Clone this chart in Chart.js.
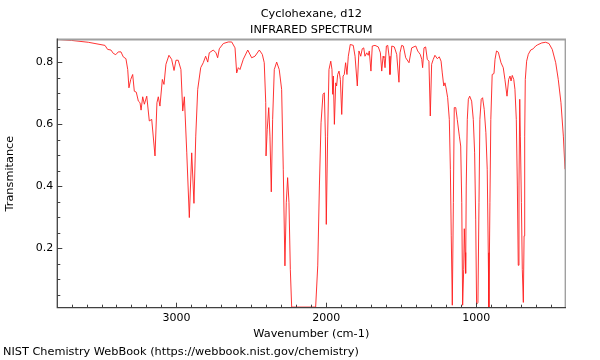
<!DOCTYPE html>
<html><head><meta charset="utf-8">
<script src="https://cdn.jsdelivr.net/npm/chart.js@4.4.1/dist/chart.umd.min.js"></script>
<style>html,body{margin:0;padding:0;background:#fff}#wrap{width:600px;height:360px}</style>
</head><body><div id="wrap"><canvas id="c" width="600" height="360"></canvas></div>
<script>
const wavenumbers = [3792,3700,3588,3477,3459,3437,3421,3405,3388,3370,3355,3337,3325,3317,3305,3292,3281,3268,3254,3243,3236,3225,3214,3198,3181,3165,3143,3130,3121,3110,3094,3083,3070,3050,3032,3016,3003,2988,2970,2958,2947,2931,2914,2898,2883,2871,2858,2838,2821,2805,2791,2781,2754,2736,2725,2714,2687,2654,2631,2609,2598,2587,2576,2554,2524,2498,2476,2447,2427,2414,2404,2402,2394,2384,2376,2367,2358,2347,2331,2314,2298,2287,2276,2267,2258,2249,2240,2231,2071,2057,2046,2035,2022,2013,2006,2000,1991,1982,1970,1962,1957,1953,1946,1937,1931,1924,1915,1906,1897,1888,1880,1871,1862,1853,1840,1820,1808,1793,1782,1770,1760,1750,1742,1730,1720,1713,1702,1693,1675,1653,1639,1630,1621,1615,1608,1599,1590,1581,1575,1563,1546,1530,1515,1508,1497,1486,1470,1448,1430,1403,1390,1381,1373,1363,1357,1348,1337,1326,1315,1306,1297,1286,1275,1259,1246,1234,1226,1216,1208,1201,1190,1179,1172,1166,1159,1152,1146,1136,1126,1112,1103,1096,1090,1083,1079,1074,1070,1066,1059,1052,1043,1030,1019,1010,1003,997,988,981,975,966,957,946,935,926,919,915,908,902,893,881,874,864,852,834,819,808,794,783,774,767,759,749,741,732,725,719,714,709,705,698,692,685,680,676,672,663,652,636,619,603,589,562,536,514,492,469,452,434,418,407];
const transmittance = [0.874,0.871,0.865,0.855,0.842,0.840,0.829,0.825,0.834,0.834,0.818,0.812,0.777,0.718,0.745,0.761,0.707,0.704,0.675,0.670,0.646,0.689,0.665,0.691,0.611,0.616,0.498,0.670,0.689,0.659,0.745,0.729,0.794,0.823,0.810,0.774,0.807,0.807,0.777,0.643,0.689,0.508,0.299,0.508,0.345,0.562,0.713,0.783,0.799,0.820,0.801,0.831,0.840,0.831,0.815,0.844,0.861,0.866,0.866,0.847,0.766,0.783,0.777,0.810,0.840,0.815,0.820,0.840,0.826,0.799,0.670,0.498,0.584,0.654,0.562,0.382,0.616,0.777,0.801,0.777,0.713,0.455,0.143,0.347,0.428,0.347,0.132,0.010,0.010,0.143,0.401,0.605,0.697,0.702,0.562,0.277,0.562,0.777,0.804,0.777,0.697,0.756,0.600,0.734,0.724,0.761,0.772,0.745,0.632,0.756,0.761,0.799,0.761,0.820,0.858,0.855,0.820,0.724,0.837,0.820,0.844,0.847,0.820,0.831,0.823,0.837,0.772,0.853,0.855,0.850,0.831,0.772,0.820,0.815,0.783,0.853,0.855,0.820,0.761,0.853,0.850,0.826,0.736,0.831,0.855,0.853,0.815,0.799,0.847,0.853,0.837,0.831,0.826,0.810,0.783,0.847,0.850,0.810,0.804,0.627,0.794,0.810,0.823,0.812,0.818,0.804,0.766,0.724,0.734,0.718,0.686,0.616,0.455,0.240,0.016,0.347,0.654,0.654,0.616,0.562,0.530,0.347,0.016,0.132,0.263,0.186,0.119,0.401,0.616,0.681,0.691,0.675,0.616,0.508,0.294,0.019,0.025,0.347,0.616,0.681,0.686,0.648,0.573,0.455,0.186,0.008,0.347,0.616,0.761,0.764,0.810,0.837,0.833,0.799,0.783,0.745,0.691,0.745,0.756,0.740,0.758,0.745,0.713,0.616,0.401,0.145,0.401,0.681,0.562,0.347,0.132,0.025,0.240,0.562,0.745,0.804,0.826,0.840,0.844,0.853,0.857,0.863,0.865,0.861,0.842,0.799,0.745,0.670,0.562,0.455];
const xTickLabels = [1000, 2000, 3000];
const yTickLabels = [0.2, 0.4, 0.6, 0.8];
const titleText = 'Cyclohexane, d12';
const subtitleText = 'INFRARED SPECTRUM';
const xTitle = 'Wavenumber (cm-1)';
const yTitle = 'Transmitance';
const footerText = 'NIST Chemistry WebBook (https://webbook.nist.gov/chemistry)';

const FONT = '"DejaVu Sans", sans-serif';

const decor = {
  id: 'decor',
  afterDraw(chart) {
    const ctx = chart.ctx, a = chart.chartArea;
    const xs = chart.scales.x, ys = chart.scales.y;
    ctx.save();
    // frame
    ctx.strokeStyle = '#a0a0a0';
    ctx.lineWidth = 2;
    ctx.beginPath(); ctx.moveTo(a.left, a.top); ctx.lineTo(a.right + 0.7, a.top); ctx.stroke();
    ctx.lineWidth = 1.4;
    ctx.beginPath(); ctx.moveTo(a.right, a.top); ctx.lineTo(a.right, a.bottom); ctx.stroke();
    ctx.strokeStyle = '#404040';
    ctx.lineWidth = 1.3;
    ctx.beginPath(); ctx.moveTo(a.left, a.top - 1); ctx.lineTo(a.left, a.bottom); ctx.lineTo(a.right + 0.7, a.bottom); ctx.stroke();
    // ticks
    ctx.lineWidth = 1;
    ctx.beginPath();
    for (let v = 500; v <= 3700; v += 100) {
      const px = Math.round(xs.getPixelForValue(v)) + 0.5;
      const len = v % 1000 === 0 ? 5 : 3;
      ctx.moveTo(px, a.bottom); ctx.lineTo(px, a.bottom - len);
    }
    for (let k = 1; k <= 17; k++) {
      const v = k * 0.05;
      const py = Math.round(ys.getPixelForValue(v)) + 0.5;
      const len = k % 4 === 0 ? 5 : 3;
      ctx.moveTo(a.left, py); ctx.lineTo(a.left + len, py);
    }
    ctx.stroke();
    // texts
    ctx.fillStyle = '#000';
    ctx.font = '11.3px ' + FONT;
    ctx.textBaseline = 'alphabetic';
    ctx.textAlign = 'center';
    const cx = (a.left + a.right) / 2;
    ctx.fillText(titleText, cx, 16.5);
    ctx.fillText(subtitleText, cx, 33.2);
    ctx.fillText(xTitle, cx, 336.5);
    ctx.textAlign = 'left';
    ctx.fillText(footerText, 3, 355);
    ctx.save();
    ctx.translate(13.2, (a.top + a.bottom) / 2);
    ctx.rotate(-Math.PI / 2);
    ctx.textAlign = 'center';
    ctx.fillText(yTitle, 0, 0);
    ctx.restore();
    ctx.restore();
  }
};

new Chart(document.getElementById('c'), {
  type: 'line',
  data: {
    datasets: [{
      data: wavenumbers.map((w, i) => ({ x: w, y: transmittance[i] })),
      borderColor: 'rgba(255,30,30,0.9)',
      borderWidth: 1,
      pointRadius: 0,
      tension: 0,
      fill: false
    }]
  },
  options: {
    responsive: false,
    animation: false,
    devicePixelRatio: 1,
    layout: { padding: { top: 39.5, right: 34.7, left: 0, bottom: 0 } },
    plugins: { legend: { display: false }, tooltip: { enabled: false }, title: { display: false } },
    scales: {
      x: {
        type: 'linear', reverse: true, min: 405, max: 3795,
        afterBuildTicks: s => { s.ticks = xTickLabels.map(v => ({ value: v })); },
        afterFit: s => { s.height = 52.3; },
        ticks: { callback: v => String(v), font: { family: FONT, size: 11 }, color: '#000', padding: 4, maxRotation: 0, autoSkip: false },
        grid: { display: false, drawTicks: false },
        border: { display: false }
      },
      y: {
        min: 0.008, max: 0.874,
        afterBuildTicks: s => { s.ticks = yTickLabels.map(v => ({ value: v })); },
        afterFit: s => { s.width = 57.3; },
        ticks: { callback: v => v.toFixed(1), font: { family: FONT, size: 11 }, color: '#000', padding: 4 },
        grid: { display: false, drawTicks: false },
        border: { display: false }
      }
    }
  },
  plugins: [decor]
});
</script>
</body></html>
